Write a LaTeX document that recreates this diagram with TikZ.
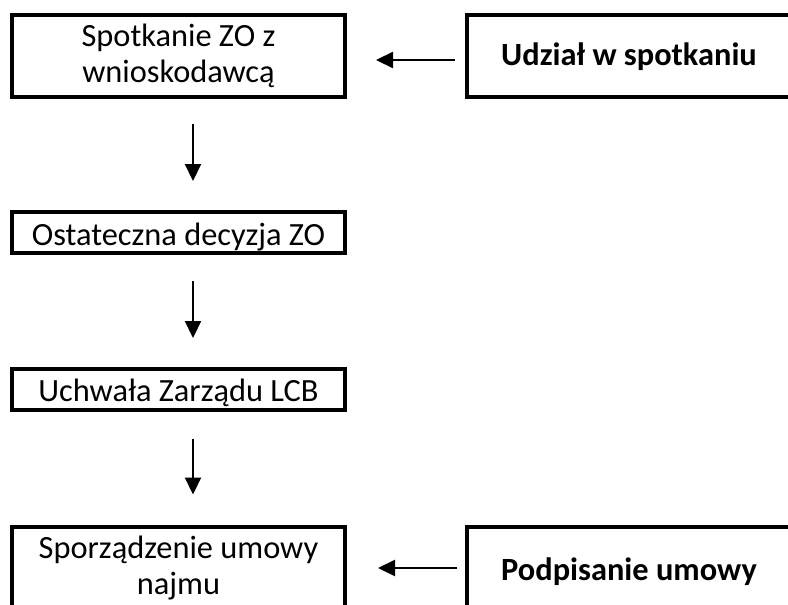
\documentclass[tikz,border=0pt]{standalone}
\usepackage{fontspec}
\setmainfont{Carlito}
\usetikzlibrary{arrows.meta}

\begin{document}
\begin{tikzpicture}[
box/.style={rectangle, draw=black, line width=4pt, inner sep=0pt, align=center, font=\fontsize{32.4pt}{36pt}\selectfont},
arr/.style={line width=2.2pt, -{Triangle[length=17pt, width=16pt]}}]
\useasboundingbox (0pt, 0pt) rectangle (788pt, -605pt);
\clip (0pt, 0pt) rectangle (788pt, -605pt);
\node (spot) [box, minimum width=333pt, minimum height=82pt] at (178.5pt, -56.0pt) {Spotkanie ZO z\\wnioskodawcą};
\node (decyzja) [box, minimum width=333pt, minimum height=41pt, text height=25pt, text depth=0pt] at (178.5pt, -232.5pt) {Ostateczna decyzja ZO};
\node (uchwala) [box, minimum width=333pt, minimum height=41pt, text height=23pt, text depth=0pt] at (178.5pt, -389.5pt) {Uchwała Zarządu LCB};
\node (umowa) [box, minimum width=333pt, minimum height=83pt] at (178.5pt, -568.0pt) {Sporządzenie umowy\\najmu};
\node (udzial) [box, minimum width=324pt, minimum height=82pt, text height=19pt, text depth=0pt, font=\fontsize{32.4pt}{36pt}\selectfont\bfseries] at (629.0pt, -56.0pt) {Udział w spotkaniu};
\node (podpis) [box, minimum width=324pt, minimum height=83pt, text height=24pt, text depth=0pt, font=\fontsize{32.4pt}{36pt}\selectfont\bfseries] at (629.0pt, -568.0pt) {Podpisanie umowy};
\draw [arr, shorten <=25pt, shorten >=29pt] ([xshift=14.5pt]spot.south) to ([xshift=14.5pt]decyzja.north);
\draw [arr, shorten <=26pt, shorten >=29pt] ([xshift=14.5pt]decyzja.south) to ([xshift=14.5pt]uchwala.north);
\draw [arr, shorten <=27pt, shorten >=30pt] ([xshift=14.5pt]uchwala.south) to ([xshift=14.5pt]umowa.north);
\draw [arr, shorten <=10pt, shorten >=29pt] ([yshift=-4pt]udzial.west) to ([yshift=-4pt]spot.east);
\draw [arr, shorten <=8pt, shorten >=31pt] (podpis.west) to (umowa.east);
\end{tikzpicture}
\end{document}
